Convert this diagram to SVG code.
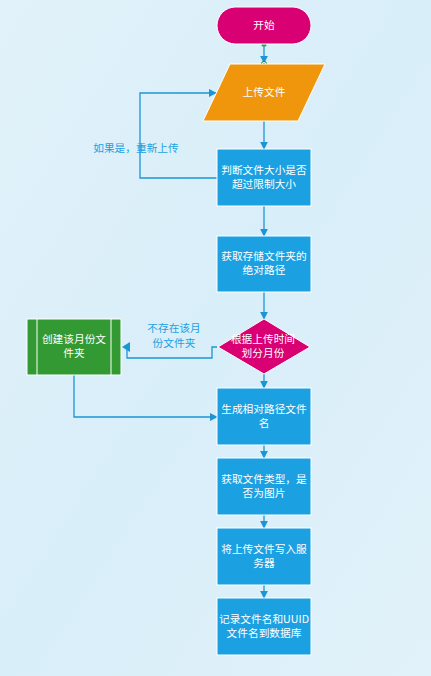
<svg xmlns="http://www.w3.org/2000/svg" width="431" height="676" viewBox="0 0 431 676">
<defs>
<linearGradient id="bg" x1="0" y1="0" x2="1" y2="1">
<stop offset="0" stop-color="#E2F2FA"/>
<stop offset="0.5" stop-color="#D8EEF9"/>
<stop offset="1" stop-color="#E2F2FA"/>
</linearGradient>
<marker id="arr" viewBox="0 0 10 10" refX="9" refY="5" markerWidth="8" markerHeight="8" markerUnits="userSpaceOnUse" orient="auto">
<path d="M0,0 L10,5 L0,10 Z" fill="#1B95D6"/>
</marker>
<style>
.box{fill:#1BA1E2;stroke:#FFFFFF;stroke-width:1}
.t{font-family:"Noto Sans CJK SC","Microsoft YaHei",sans-serif;font-size:10.7px;fill:#FFFFFF;text-anchor:middle}
.lbl{font-family:"Noto Sans CJK SC","Microsoft YaHei",sans-serif;font-size:10.7px;fill:#1BA1E2;text-anchor:middle}
.ln{fill:none;stroke:#1B95D6;stroke-width:1.3}
</style>
</defs>
<rect x="0" y="0" width="431" height="676" fill="url(#bg)"/>
<g id="connectors">
<path class="ln" d="M264,45 V63" marker-end="url(#arr)"/>
<path class="ln" d="M264,121 V149" marker-end="url(#arr)"/>
<path class="ln" d="M217,178 H140 V93 H216" marker-end="url(#arr)"/>
<path class="ln" d="M264,206 V236" marker-end="url(#arr)"/>
<path class="ln" d="M264,292 V319" marker-end="url(#arr)"/>
<path class="ln" d="M217,347 H212 V358 H127 V348"/>
<polygon points="122,347 130,342 130,352" fill="#1B95D6"/>
<path class="ln" d="M264,374 V388" marker-end="url(#arr)"/>
<path class="ln" d="M74,375 V417 H217" marker-end="url(#arr)"/>
<path class="ln" d="M264,445 V458" marker-end="url(#arr)"/>
<path class="ln" d="M264,515 V528" marker-end="url(#arr)"/>
<path class="ln" d="M264,585 V598" marker-end="url(#arr)"/>
<rect x="262" y="42" width="4" height="4" fill="#22B14C" stroke="#118833" stroke-width="0.5"/>
<circle cx="264" cy="64" r="2.6" fill="#FFFFFF" stroke="#118833" stroke-width="1"/>
<circle cx="264" cy="64" r="1.2" fill="#22B14C"/>
<text class="lbl" x="136" y="152">如果是，重新上传</text>
<text class="lbl" x="174" y="332">不存在该月<tspan x="174" dy="15">份文件夹</tspan></text>
</g>
<g id="start">
<rect x="217" y="7" width="94" height="37" rx="18.5" fill="#D80073" stroke="#FFFFFF" stroke-width="1"/>
<text class="t" x="264" y="29">开始</text>
</g>
<g id="upload">
<polygon points="230,64 325,64 298,121 203,121" fill="#F0960C" stroke="#FFFFFF" stroke-width="1"/>
<text class="t" x="264" y="96">上传文件</text>
</g>
<g id="check-size">
<rect class="box" x="217" y="149" width="94" height="57"/>
<text class="t" x="264" y="174">判断文件大小是否<tspan x="264" dy="14">超过限制大小</tspan></text>
</g>
<g id="get-path">
<rect class="box" x="217" y="236" width="94" height="56"/>
<text class="t" x="264" y="260">获取存储文件夹的<tspan x="264" dy="14">绝对路径</tspan></text>
</g>
<g id="month">
<polygon points="264,319 310,347 264,374 218,347" fill="#D80073" stroke="#FFFFFF" stroke-width="1"/>
<text class="t" x="263" y="343">根据上传时间<tspan x="263" dy="14">划分月份</tspan></text>
</g>
<g id="create-folder">
<rect x="27" y="319" width="94" height="56" fill="#339933" stroke="#FFFFFF" stroke-width="1"/>
<line x1="37" y1="319" x2="37" y2="375" stroke="#FFFFFF" stroke-width="1"/>
<line x1="111" y1="319" x2="111" y2="375" stroke="#FFFFFF" stroke-width="1"/>
<text class="t" x="74" y="343">创建该月份文<tspan x="74" dy="14">件夹</tspan></text>
</g>
<g id="rel-path">
<rect class="box" x="217" y="388" width="94" height="57"/>
<text class="t" x="264" y="413">生成相对路径文件<tspan x="264" dy="14">名</tspan></text>
</g>
<g id="file-type">
<rect class="box" x="217" y="458" width="94" height="57"/>
<text class="t" x="264" y="483">获取文件类型，是<tspan x="264" dy="14">否为图片</tspan></text>
</g>
<g id="write">
<rect class="box" x="217" y="528" width="94" height="57"/>
<text class="t" x="264" y="553">将上传文件写入服<tspan x="264" dy="14">务器</tspan></text>
</g>
<g id="record">
<rect class="box" x="217" y="598" width="94" height="57"/>
<text class="t" x="264" y="623">记录文件名和UUID<tspan x="264" dy="14">文件名到数据库</tspan></text>
</g>
</svg>
